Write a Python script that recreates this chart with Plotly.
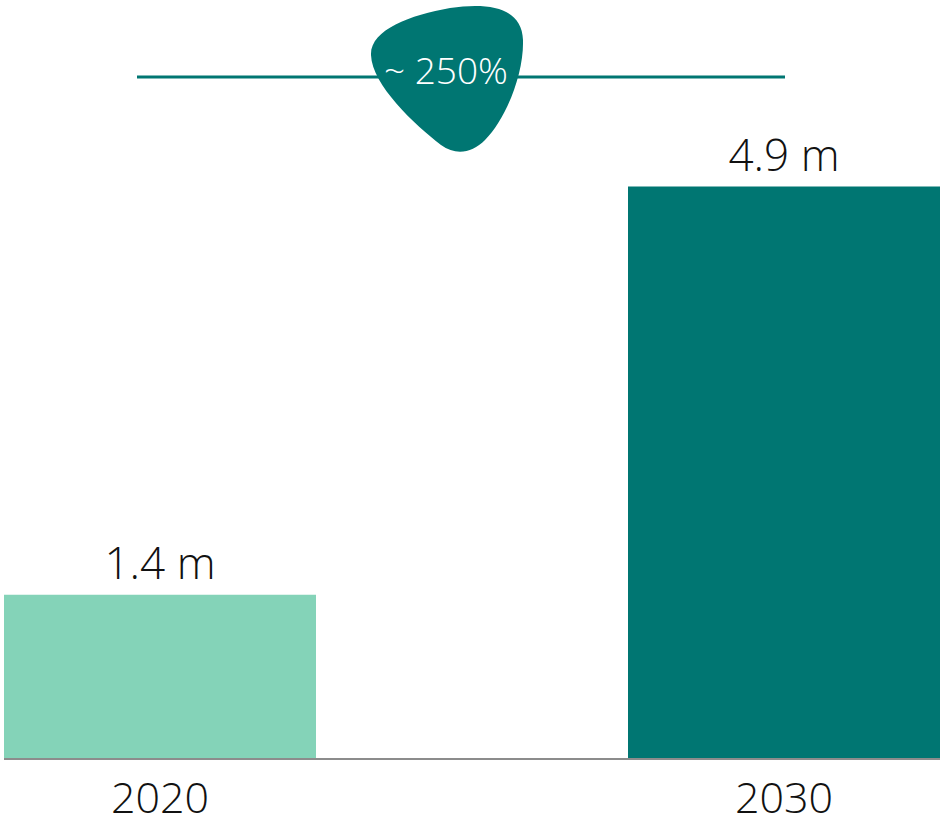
import plotly.graph_objects as go

categories = ["2020", "2030"]
values = [1.4, 4.9]
value_labels = ["1.4 m", "4.9 m"]
bar_colors = ["#84d3b8", "#007672"]
growth_label = "~ 250%"

W, H = 940, 826
ML, MR, MT, MB = 4, 0, 0, 68
PW, PH = W - ML - MR, H - MT - MB

def px(x):
    return (x - ML) / PW

def py(y):
    return (MT + PH - y) / PH

FONT = "Open Sans"

fig = go.Figure(go.Bar(
    x=categories, y=values, text=value_labels,
    marker=dict(color=bar_colors, line=dict(width=0)),
    width=0.5,
    textposition="outside",
    textfont=dict(family=FONT, size=44, color="#111111", weight=300),
    cliponaxis=False,
    hoverinfo="skip",
))

# blob path in pixel coordinates, converted to paper
pts = [
    ("M", [(371, 55)]),
    ("C", [(370, 30), (410, 15), (450, 8)]),
    ("C", [(490, 2), (522, 8), (523, 40)]),
    ("C", [(524, 75), (505, 120), (485, 140)]),
    ("C", [(472, 153), (456, 156), (441, 145)]),
    ("C", [(415, 125), (372, 85), (371, 55)]),
]
path = ""
for cmd, ps in pts:
    path += cmd + " " + " ".join(f"{px(x):.5f},{py(y):.5f}" for x, y in ps) + " "
path += "Z"

fig.add_shape(type="line", xref="paper", yref="paper",
              x0=px(137), x1=px(785), y0=py(77), y1=py(77),
              line=dict(color="#007672", width=3), layer="above")
fig.add_shape(type="path", xref="paper", yref="paper", path=path,
              fillcolor="#007672", line=dict(width=0), layer="above")
fig.add_annotation(xref="paper", yref="paper", x=px(446), y=py(70),
                   text=growth_label, showarrow=False,
                   font=dict(family=FONT, size=37, color="white", weight=300),
                   xanchor="center", yanchor="middle")

fig.update_layout(
    width=W, height=H,
    margin=dict(l=ML, r=MR, t=MT, b=MB, pad=0, autoexpand=False),
    paper_bgcolor="white", plot_bgcolor="white",
    showlegend=False,
    font=dict(family=FONT, weight=300),
    xaxis=dict(range=[-0.5 + 0.25, 1.5 - 0.25], showgrid=False, zeroline=False,
               showline=True, linecolor="#8c8c8c", linewidth=2, automargin=False,
               ticks="", tickfont=dict(family=FONT, size=43, color="#111111", weight=300),
               ticklabelstandoff=1),
    yaxis=dict(range=[0, 6.5], visible=False, automargin=False),
)

fig.write_html("out.html")
